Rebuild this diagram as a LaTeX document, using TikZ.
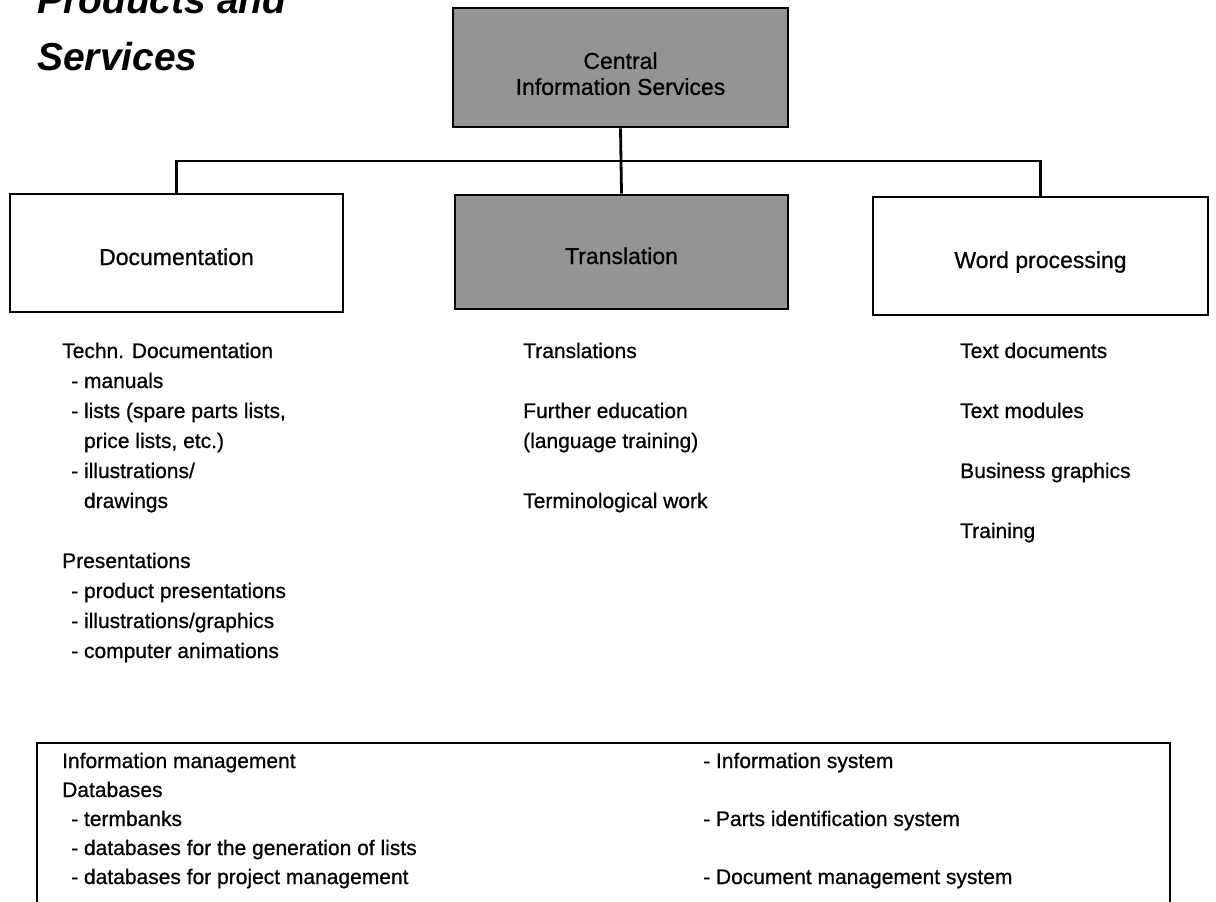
\documentclass[tikz,border=0pt]{standalone}
\usepackage{fontspec}
\setmainfont{Liberation Sans}
% slightly heavier face for the body text
\newfontfamily\heavysans{Liberation Sans}[FakeBold=0.7]
\begin{document}
\begin{tikzpicture}[x=1pt,y=-1pt,
  box/.style={draw=black, line width=2.8pt, inner sep=0pt, align=center,
    font=\heavysans\fontsize{23}{26}\selectfont},
  onelabel/.style={text height=24pt, text depth=0pt},
  shaded/.style={fill=black!42},
  wire/.style={line width=2.8pt},
  txt/.style={anchor=base west, inner sep=0pt, font=\heavysans\fontsize{21}{29}\selectfont},
  heading/.style={anchor=base west, inner sep=0pt,
    font=\fontsize{39}{47}\selectfont\bfseries\itshape},
]
\useasboundingbox (0,0) rectangle (1216,902);
\clip (0,0) rectangle (1216,902);

% title
\node[heading] (title1) at (37,13) {Products and};
\node[heading] (title2) at (37,70) {Services};

% organisation boxes
\node[box, shaded, minimum width=335pt, minimum height=119pt] (central) at (620.5,67.5)
  {\rule{0pt}{29pt}Central\\Information Services};
\node[box, onelabel, minimum width=333pt, minimum height=118pt] (doc) at (176.5,253) {Documentation};
\node[box, onelabel, shaded, minimum width=333pt, minimum height=114pt] (trans) at (621.5,252) {Translation};
\node[box, onelabel, minimum width=335pt, minimum height=118pt] (word) at (1040.5,256) {Word processing};

% connectors
\coordinate (bus) at (620.5,161);
\draw[wire] (central.south) -- (trans.north);
\draw[wire] (doc.north) |- (bus) -| (word.north);

% information management frame (runs past the lower edge)
\node[draw=black, line width=2.8pt, inner sep=0pt, minimum width=1133pt,
  minimum height=162pt] (infobox) at (603.5,824) {};

% text lists
\foreach \x/\y/\t [count=\i] in {
  62/358/{Techn. Documentation},
  71/388/{- manuals},
  71/418/{- lists (spare parts lists,},
  71/448/{\phantom{- }price lists, etc.)},
  71/478/{- illustrations/},
  71/508/{\phantom{- }drawings},
  62/568/{Presentations},
  71/598/{- product presentations},
  71/628/{- illustrations/graphics},
  71/658/{- computer animations},
  523/358/{Translations},
  523/418/{Further education},
  523/448/{(language training)},
  523/508/{Terminological work},
  960/358/{Text documents},
  960/418/{Text modules},
  960/478/{Business graphics},
  960/538/{Training},
  62/768/{Information management},
  62/797/{Databases},
  71/826/{- termbanks},
  71/855/{- databases for the generation of lists},
  71/884/{- databases for project management},
  703/768/{- Information system},
  703/826/{- Parts identification system},
  703/884/{- Document management system}}
  \node[txt, name=ln\i] at (\x,\y) {\t};
\end{tikzpicture}
\end{document}
